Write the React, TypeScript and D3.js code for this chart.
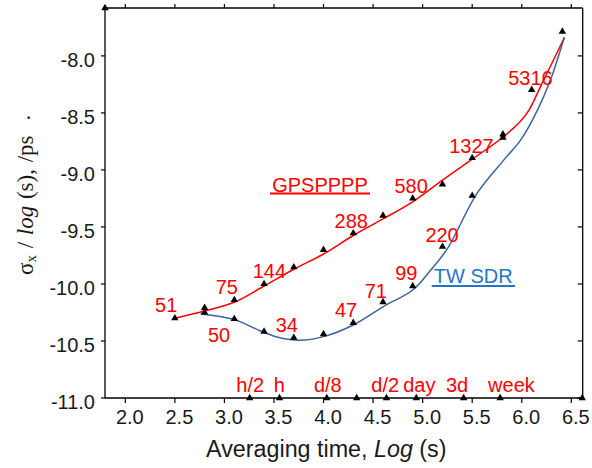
import React from "react";
import * as d3 from "d3";

const W = 592;
const H = 468;

const xTicks = [2.0, 2.5, 3.0, 3.5, 4.0, 4.5, 5.0, 5.5, 6.0, 6.5];
const yTicks = [-8.0, -8.5, -9.0, -9.5, -10.0, -10.5, -11.0];

// GPS PPP measured points
const gpsX = [2.5, 2.8, 3.1, 3.4, 3.7, 4.0, 4.3, 4.6, 4.9, 5.2, 5.5, 5.81, 6.1, 6.41];
const gpsY = [-10.3, -10.21, -10.14, -10.0, -9.853, -9.7, -9.555, -9.4, -9.25, -9.126, -8.895, -8.687, -8.298, -7.787];
// TW SDR measured points
const twX = [2.8, 3.1, 3.4, 3.7, 4.0, 4.3, 4.6, 4.9, 5.2, 5.5, 5.81];
const twY = [-10.25, -10.307, -10.418, -10.471, -10.44, -10.34, -10.158, -10.018, -9.673, -9.226, -8.717];

// smoothed fit curves
const gpsFitX = [2.5, 2.8, 3.1, 3.4, 3.7, 4.0, 4.3, 4.6, 4.9, 5.2, 5.5, 5.8, 5.98, 6.07, 6.2, 6.43];
const gpsFitY = [-10.3, -10.237, -10.16, -10.018, -9.871, -9.737, -9.575, -9.43, -9.28, -9.09, -8.906, -8.72, -8.58, -8.48, -8.25, -7.84];
const twFitX = [2.76, 3.09, 3.36, 3.55, 3.76, 4.0, 4.3, 4.6, 4.9, 5.08, 5.25, 5.55, 5.82, 5.99, 6.16, 6.29, 6.43];
const twFitY = [-10.263, -10.31, -10.41, -10.47, -10.494, -10.462, -10.36, -10.2, -10.053, -9.88, -9.69, -9.204, -8.912, -8.737, -8.474, -8.21, -7.836];

// point count annotations
const gpsNames = ["51", "75", "144", "288", "580", "1327", "5316"];
const gpsNameX = [2.413, 3.024, 3.454, 4.28, 4.884, 5.492, 6.088];
const gpsNameY = [-10.25, -10.088, -9.95, -9.511, -9.204, -8.848, -8.254];
const twNames = ["50", "34", "47", "71", "99", "220"];
const twNameX = [2.946, 3.63, 4.227, 4.527, 4.835, 5.196];
const twNameY = [-10.506, -10.418, -10.287, -10.125, -9.965, -9.629];

// time reference marks on the x axis
const timeMarkX = [3.255, 3.556, 4.033, 4.334, 4.635, 4.936, 5.414, 5.782, 6.61];
const timeNames = ["h/2", "h", "d/8", "d/2", "day", "3d", "week"];
const timeNameX = [3.26, 3.553, 4.043, 4.623, 4.967, 5.347, 5.896];

const X_DOMAIN = [1.795, 6.615];
const Y_DOMAIN = [-11, -7.58];

export default function App() {
  const left = 105, right = 582.7, top = 8, bottom = 398;
  const x = d3.scaleLinear().domain(X_DOMAIN).range([left, right]);
  const y = d3.scaleLinear().domain(Y_DOMAIN).range([bottom, top]);
  const line = d3
    .line<[number, number]>()
    .x((d) => x(d[0]))
    .y((d) => y(d[1]))
    .curve(d3.curveCatmullRom.alpha(0.5));
  const gpsFit = gpsFitX.map((v, i) => [v, gpsFitY[i]] as [number, number]);
  const twFit = twFitX.map((v, i) => [v, twFitY[i]] as [number, number]);
  const tri = d3.symbol().type(d3.symbolTriangle).size(24)()!;
  const sans = "'Liberation Sans', Arial, sans-serif";
  const serif = "'Liberation Serif', 'Times New Roman', serif";
  const red = "#ff0000";
  const blue = "#3b64a0";
  const fs = 20;

  const pts: [number, number][] = [
    ...gpsX.map((v, i) => [v, gpsY[i]] as [number, number]),
    ...twX.map((v, i) => [v, twY[i]] as [number, number]),
    ...timeMarkX.map((v) => [v, Y_DOMAIN[0]] as [number, number]),
    [X_DOMAIN[0], Y_DOMAIN[1]],
  ];

  return (
    <svg
      width={W}
      height={H}
      style={{ position: "absolute", left: 0, top: 0, background: "#fff" }}
    >
      <rect x={0} y={0} width={W} height={H} fill="#fff" />
      {/* frame */}
      <line x1={left} x2={right} y1={top} y2={top} stroke="#000" strokeWidth={1.3} />
      <line x1={left} x2={right} y1={bottom} y2={bottom} stroke="#000" strokeWidth={1.3} />
      <line x1={left} x2={left} y1={top} y2={bottom} stroke="#000" strokeWidth={1.3} />
      <line x1={right} x2={right} y1={top} y2={bottom} stroke="#000" strokeWidth={1.3} />
      {/* x ticks */}
      {xTicks.map((t) => (
        <g key={"xt" + t}>
          <line x1={x(t)} x2={x(t)} y1={top} y2={top - 4} stroke="#000" strokeWidth={1.2} />
          <line x1={x(t)} x2={x(t)} y1={bottom} y2={bottom + 5} stroke="#000" strokeWidth={1.2} />
          <text
            x={x(t) + 4.5}
            y={bottom + 25.5}
            textAnchor="middle"
            fontFamily={sans}
            fontSize={fs}
            fill="#1a1a1a"
          >
            {t.toFixed(1)}
          </text>
        </g>
      ))}
      {/* y ticks */}
      {yTicks.map((t) => (
        <g key={"yt" + t}>
          <line x1={left} x2={left - 4} y1={y(t)} y2={y(t)} stroke="#000" strokeWidth={1.2} />
          <line x1={right} x2={right - 5} y1={y(t)} y2={y(t)} stroke="#000" strokeWidth={1.2} />
          <text
            x={95}
            y={y(t) + 11}
            textAnchor="end"
            fontFamily={sans}
            fontSize={fs}
            fill="#1a1a1a"
          >
            {t.toFixed(1)}
          </text>
        </g>
      ))}
      {/* fit curves */}
      <path d={line(gpsFit) || ""} fill="none" stroke={red} strokeWidth={1.5} />
      <path d={line(twFit) || ""} fill="none" stroke={blue} strokeWidth={1.5} />
      {/* markers */}
      {pts.map((p, i) => (
        <path key={"m" + i} d={tri} transform={`translate(${x(p[0])},${y(p[1])})`} fill="#000" />
      ))}
      {/* annotations */}
      {gpsNames.map((n, i) => (
        <text key={"g" + n} x={x(gpsNameX[i])} y={y(gpsNameY[i])} textAnchor="middle" fontFamily={sans} fontSize={fs} fill={red}>
          {n}
        </text>
      ))}
      {twNames.map((n, i) => (
        <text key={"t" + n} x={x(twNameX[i])} y={y(twNameY[i])} textAnchor="middle" fontFamily={sans} fontSize={fs} fill={red}>
          {n}
        </text>
      ))}
      {timeNames.map((n, i) => (
        <text key={"tm" + n} x={x(timeNameX[i])} y={bottom - 6} textAnchor="middle" fontFamily={sans} fontSize={fs} fill={red}>
          {n}
        </text>
      ))}
      {/* series labels */}
      <text x={320} y={191.5} textAnchor="middle" fontFamily={sans} fontSize={fs} fill={red}>
        GPSPPPP
      </text>
      <line x1={270} x2={370} y1={193.5} y2={193.5} stroke={red} strokeWidth={2} />
      <text x={473.3} y={283} textAnchor="middle" fontFamily={sans} fontSize={fs} fill="#1f77c4">
        TW SDR
      </text>
      <line x1={431.7} x2={515} y1={286} y2={286} stroke="#1f77c4" strokeWidth={2} />
      {/* axis titles */}
      <text x={326.3} y={456.7} textAnchor="middle" fontFamily={sans} fontSize={23.3} fill="#1a1a1a">
        Averaging time, <tspan fontStyle="italic">Log</tspan> (s)
      </text>
      <g transform="translate(32.5,275) rotate(-90)">
        <text x={0} y={0} fontFamily={serif} fontSize={23} fill="#1a1a1a" style={{ wordSpacing: "1px" }}>
          σ<tspan fontSize={15} dy={3}>x</tspan>
          <tspan dy={-3}> / </tspan>
          <tspan fontStyle="italic">log</tspan>
          <tspan> (s), /ps</tspan>
          <tspan dx={15} dy={-3}>.</tspan>
        </text>
      </g>
    </svg>
  );
}
